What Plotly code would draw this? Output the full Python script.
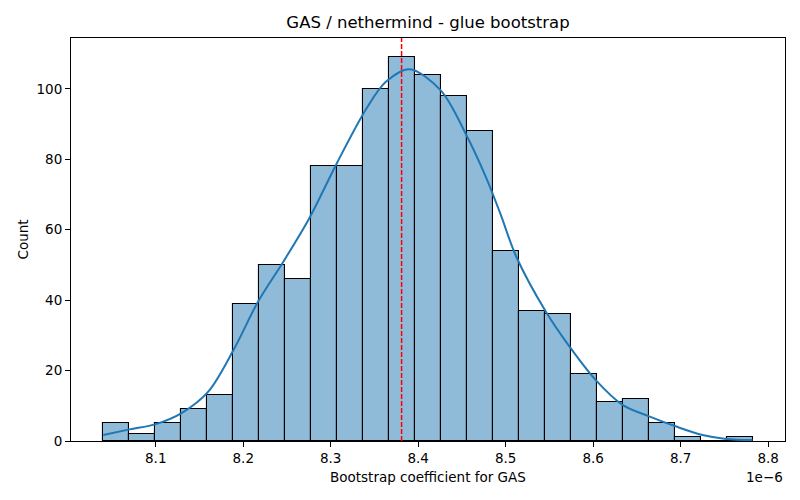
import numpy as np
import plotly.graph_objects as go

# histogram counts (25 bins), x in units of 1e-6
counts = [5, 2, 5, 9, 13, 39, 50, 46, 78, 78, 100, 109, 104, 98, 88,
          54, 37, 36, 19, 11, 12, 5, 1, 0, 1]
bin_start = 8.0402
bin_width = 0.02968

# kde curve
kde_x = [8.040, 8.070, 8.100, 8.130, 8.160, 8.189, 8.217, 8.246, 8.276,
         8.307, 8.341, 8.363, 8.390, 8.426, 8.455, 8.478, 8.494, 8.512,
         8.546, 8.573, 8.603, 8.634, 8.664, 8.695, 8.725, 8.752, 8.782]
kde_y = [1.7, 3.3, 4.8, 8.0, 14.0, 25.9, 39.6, 51.0, 63.5,
         78.9, 94.5, 102.0, 105.6, 99.5, 86.9, 74.6, 64.5, 52.4,
         36.7, 26.8, 17.3, 10.2, 7.0, 4.1, 1.7, 0.6, 0.3]

mean_coef = 8.381

x_ticks = [8.1, 8.2, 8.3, 8.4, 8.5, 8.6, 8.7, 8.8]
y_ticks = [0, 20, 40, 60, 80, 100]

centers = bin_start + bin_width * (np.arange(len(counts)) + 0.5)

FONT = "DejaVu Sans"
W, H = 792, 492  # page body adds an 8px offset

fig = go.Figure()
fig.add_trace(go.Bar(
    x=centers, y=counts, width=bin_width,
    marker=dict(color="rgba(31,119,180,0.5)",
                line=dict(color="black", width=1.1)),
    showlegend=False,
))
fig.add_trace(go.Scatter(
    x=kde_x, y=kde_y, mode="lines",
    line=dict(color="#1f77b4", width=2, shape="spline", smoothing=0.9),
    showlegend=False,
))

fig.add_shape(type="line", x0=mean_coef, x1=mean_coef, xref="x",
              y0=0, y1=1, yref="paper", layer="above",
              line=dict(color="#ff0000", width=1.5, dash="5px,2px"))

span = bin_width * len(counts)
x_lo = bin_start - 0.05 * span
x_hi = bin_start + 1.05 * span
y_hi = max(counts) * 1.05

fig.update_layout(
    width=W, height=H,
    margin=dict(l=63, r=15, t=30, b=59),
    plot_bgcolor="white", paper_bgcolor="white",
    font=dict(family=FONT, size=13.5, color="black"),
    bargap=0,
    title=dict(text="GAS / nethermind - glue bootstrap",
               x=0.5, xref="paper", y=1 - 14 / H, yref="container",
               xanchor="center", yanchor="middle",
               font=dict(family=FONT, size=16.5)),
)
fig.update_xaxes(
    range=[x_lo, x_hi], tickvals=x_ticks,
    ticktext=[f"{t:.1f}" for t in x_ticks],
    showline=True, linecolor="black", linewidth=1, mirror=True,
    ticks="outside", ticklen=5, tickcolor="black",
    showgrid=False, zeroline=False, automargin=False,
)
fig.update_yaxes(
    range=[0, y_hi], tickvals=y_ticks,
    showline=True, linecolor="black", linewidth=1, mirror=True,
    ticks="outside", ticklen=5, tickcolor="black",
    showgrid=False, zeroline=False, automargin=False,
)

fig.add_annotation(text="Bootstrap coefficient for GAS", xref="paper", yref="paper",
                   x=0.5, y=-36 / 403, xanchor="center", yanchor="middle",
                   showarrow=False, font=dict(family=FONT, size=13.5))
fig.add_annotation(text="1e\u22126", xref="paper", yref="paper",
                   x=1.0, y=-36 / 403, xanchor="right", yanchor="middle",
                   showarrow=False, font=dict(family=FONT, size=13.5))
fig.add_annotation(text="Count", xref="paper", yref="paper",
                   x=-49 / 714, y=0.5, xanchor="center", yanchor="middle",
                   textangle=-90, showarrow=False, font=dict(family=FONT, size=13.5))

fig.write_html("out.html")
